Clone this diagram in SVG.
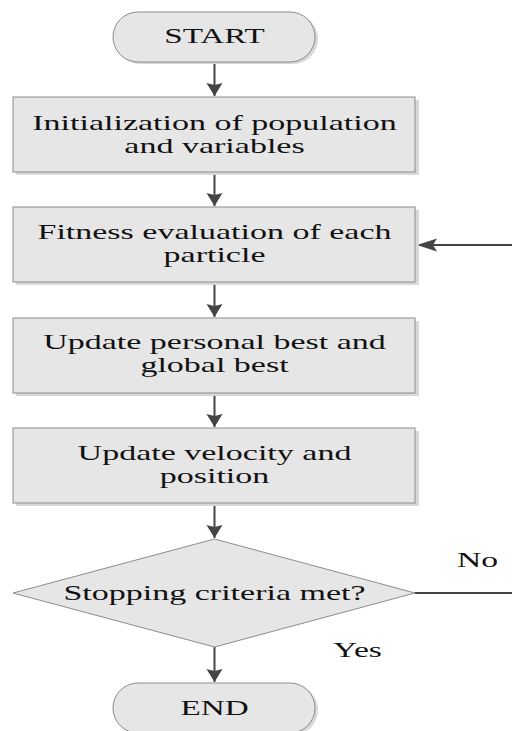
<svg xmlns="http://www.w3.org/2000/svg" width="512" height="731" viewBox="0 0 512 731">
<style>
.box{fill:#e6e6e6;stroke:#8c8c8c;stroke-width:1}
.shadow{fill:#d8d8d8}
.t{font-family:"Liberation Serif","Times New Roman",serif;font-size:21px;fill:#111;text-anchor:middle}
.l{font-family:"Liberation Serif","Times New Roman",serif;font-size:21px;fill:#111}
.c{stroke:#444;stroke-width:2;fill:none}
</style>
<defs>
<marker id="ah" markerWidth="14" markerHeight="18" refX="13" refY="8" orient="auto" markerUnits="userSpaceOnUse">
<path d="M0,0 L13,8 L0,16 L2,8 Z" fill="#444"/>
</marker>
<marker id="ahh" markerWidth="22" markerHeight="14" refX="20" refY="6.5" orient="auto" markerUnits="userSpaceOnUse">
<path d="M0,0 L20,6.5 L0,13 L4,6.5 Z" fill="#444"/>
</marker>
</defs>
<rect width="512" height="731" fill="#fff"/>
<g id="connectors">
<line class="c" x1="214.5" y1="62" x2="214.5" y2="96" marker-end="url(#ah)"/>
<line class="c" x1="214.5" y1="172" x2="214.5" y2="206" marker-end="url(#ah)"/>
<line class="c" x1="214.5" y1="282" x2="214.5" y2="317" marker-end="url(#ah)"/>
<line class="c" x1="214.5" y1="393" x2="214.5" y2="427" marker-end="url(#ah)"/>
<line class="c" x1="214.5" y1="503" x2="214.5" y2="538" marker-end="url(#ah)"/>
<line class="c" x1="214.5" y1="647" x2="214.5" y2="682" marker-end="url(#ah)"/>
<path class="c" d="M415,593 L516,593 L516,245 L417,245" marker-end="url(#ahh)"/>
</g>
<g id="start">
<rect class="shadow" x="115" y="14" width="203" height="50" rx="25"/>
<rect class="box" x="113" y="12" width="202" height="50" rx="25"/>
<text class="t" transform="translate(214.5,43) scale(1.58,1)">START</text>
</g>
<g id="init">
<rect class="shadow" x="16" y="100" width="403" height="75"/>
<rect class="box" x="13" y="97" width="402" height="75"/>
<text class="t" transform="translate(214.5,130) scale(1.62,1)">Initialization of population</text>
<text class="t" transform="translate(214.5,153) scale(1.62,1)">and variables</text>
</g>
<g id="fitness">
<rect class="shadow" x="16" y="210" width="403" height="75"/>
<rect class="box" x="13" y="207" width="402" height="75"/>
<text class="t" transform="translate(214.5,239) scale(1.62,1)">Fitness evaluation of each</text>
<text class="t" transform="translate(214.5,262) scale(1.62,1)">particle</text>
</g>
<g id="update-best">
<rect class="shadow" x="16" y="321" width="403" height="75"/>
<rect class="box" x="13" y="318" width="402" height="75"/>
<text class="t" transform="translate(214.5,349) scale(1.62,1)">Update personal best and</text>
<text class="t" transform="translate(214.5,372) scale(1.62,1)">global best</text>
</g>
<g id="update-velocity">
<rect class="shadow" x="16" y="431" width="403" height="75"/>
<rect class="box" x="13" y="428" width="402" height="75"/>
<text class="t" transform="translate(214.5,460) scale(1.62,1)">Update velocity and</text>
<text class="t" transform="translate(214.5,483) scale(1.62,1)">position</text>
</g>
<g id="decision">
<polygon class="box" points="214.5,539 415,593 214.5,647 13,593"/>
<text class="t" transform="translate(214.5,600) scale(1.62,1)">Stopping criteria met?</text>
</g>
<g id="end">
<rect class="shadow" x="115" y="685" width="203" height="50" rx="25"/>
<rect class="box" x="113" y="683" width="202" height="50" rx="25"/>
<text class="t" transform="translate(214.5,715) scale(1.58,1)">END</text>
</g>
<g id="labels">
<text class="l" transform="translate(457,567) scale(1.6,1)">No</text>
<text class="l" transform="translate(333,657) scale(1.6,1)">Yes</text>
</g>
</svg>
